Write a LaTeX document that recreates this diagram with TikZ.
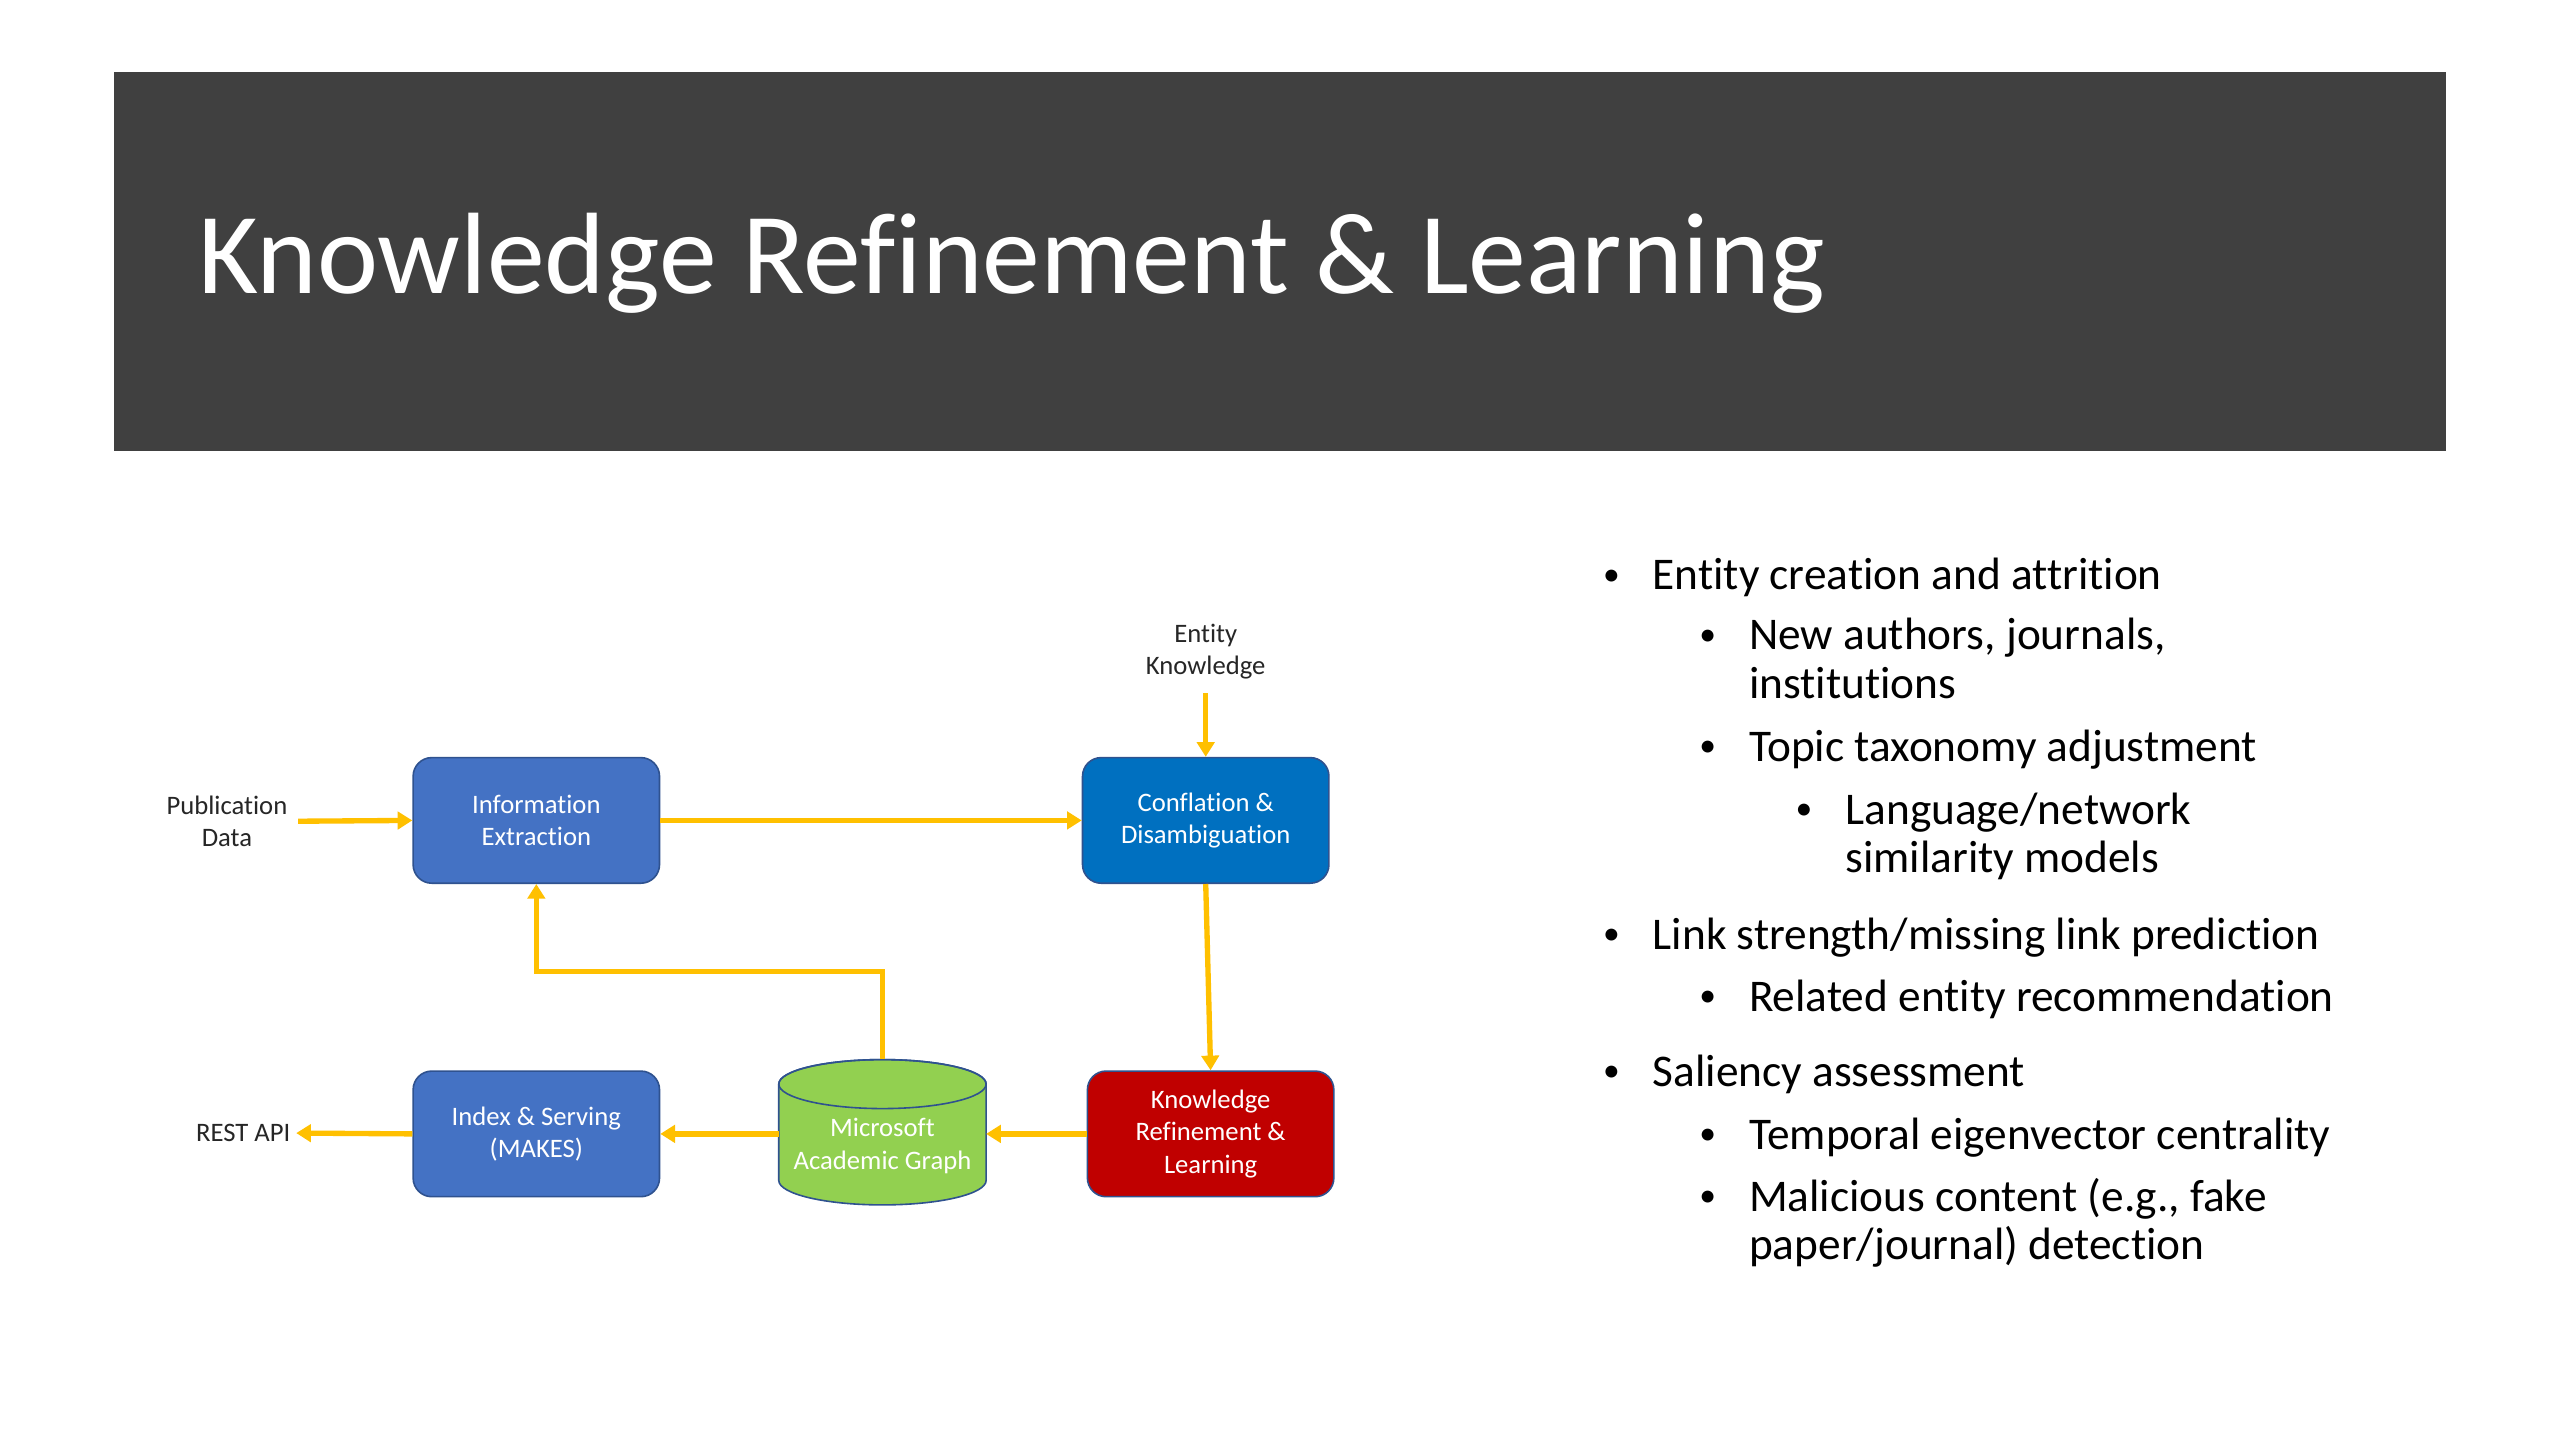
\documentclass[tikz,border=0pt]{standalone}
\usepackage{fontspec}
\setmainfont[Ligatures={NoCommon}]{Carlito}
\usetikzlibrary{arrows.meta}
\definecolor{banner}{HTML}{404040}
\definecolor{boxblue}{HTML}{4472C4}
\definecolor{boxblueb}{HTML}{0070C0}
\definecolor{boxred}{HTML}{C00000}
\definecolor{cylgreen}{HTML}{92D050}
\definecolor{outl}{HTML}{2F528F}
\definecolor{arrowy}{HTML}{FFC000}
\tikzset{
  procbox/.style={draw=outl, line width=0.6pt, rounded corners=7pt, minimum width=92.4pt, minimum height=47.1pt, inner sep=0pt, align=center, text=white, font=\fontsize{10}{12.2}\selectfont},
  sidelabel/.style={align=center, text=black!85, font=\fontsize{10}{12.2}\selectfont, inner sep=2pt},
  arr/.style={draw=arrowy, line width=2pt, -{Triangle[width=6.5pt,length=5.5pt]}},
  bul/.style={anchor=base, font=\fontsize{12.6}{14}\selectfont, text=black, inner sep=0pt, yshift=1.8pt},
  btext/.style={anchor=base west, font=\fontsize{17}{18}\selectfont, text=black, inner sep=0pt},
}
\begin{document}
\begin{tikzpicture}[x=0.61224pt, y=-0.61224pt]
\useasboundingbox[fill=white] (0,0) rectangle (1568,882);
% banner
\fill[banner] (70,44) rectangle (1498,276);
\node[anchor=base west, inner sep=0pt, text=white, font=\fontsize{43.4}{50}\selectfont] (title) at (121,180) {Knowledge Refinement \& Learning};

% process boxes
\node[procbox, fill=boxblue] (ie) at (328.5,502.5) {Information\\Extraction};
\node[procbox, fill=boxblueb] (conf) at (738.5,502.5) {Conflation \&\\Disambiguation};
\node[procbox, fill=boxblue] (idx) at (328.5,694.5) {Index \& Serving\\(MAKES)};
\node[procbox, fill=boxred] (kr) at (741.5,694.5) {Knowledge\\Refinement \&\\Learning};

% cylinder
\node[minimum width=77.8pt, minimum height=54.5pt, inner sep=0pt] (mag) at (540.5,693.5) {};
\path[fill=cylgreen, draw=outl, line width=0.6pt]
  (477,664) -- (477,723) arc[start angle=180, end angle=0, x radius=63.5, y radius=15]
  -- (604,664) arc[start angle=0, end angle=-180, x radius=63.5, y radius=15] -- cycle;
\draw[outl, line width=0.6pt] (540.5,664) ellipse[x radius=63.5, y radius=15];
\node[align=center, text=white, font=\fontsize{10}{12.2}\selectfont, inner sep=0pt] (magt) at (540.5,702) {Microsoft\\Academic Graph};

% side labels
\node[sidelabel] (pub) at (139,503) {Publication\\Data};
\node[sidelabel] (ek) at (738.5,399) {Entity\\Knowledge};
\node[sidelabel] (rest) at (149,694) {REST API};

% connectors
\coordinate (bend) at (540.5,595);
\draw[arr] (pub.east) ++(3,0) -- (ie.west);
\draw[arr] (ie.east) -- (conf.west);
\draw[arr, shorten <=3pt] (ek.south) -- (conf.north);
\draw[arr] (conf.south) -- (kr.north);
\draw[arr] (kr.west) -- (604,694.5);
\draw[arr] (477,694.5) -- (idx.east);
\draw[arr] (idx.west) -- (rest.east);
\draw[arr] (mag.north) -- (bend) -| (ie.south);

% bullets
\node[bul] (b1) at (987,361.3) {•};
\node[btext] (t1) at (1012,361.3) {Entity creation and attrition};
\node[bul] (b2) at (1046,398) {•};
\node[btext] (t2) at (1071,398) {New authors, journals,};
\node[btext] (t2b) at (1071,427.6) {institutions};
\node[bul] (b3) at (1046,466.4) {•};
\node[btext] (t3) at (1071,466.4) {Topic taxonomy adjustment};
\node[bul] (b4) at (1105,505) {•};
\node[btext] (t4) at (1130,505) {Language/network};
\node[btext] (t4b) at (1130,534.7) {similarity models};
\node[bul] (b5) at (987,581.7) {•};
\node[btext] (t5) at (1012,581.7) {Link strength/missing link prediction};
\node[bul] (b6) at (1046,619.4) {•};
\node[btext] (t6) at (1071,619.4) {Related entity recommendation};
\node[bul] (b7) at (987,665.4) {•};
\node[btext] (t7) at (1012,665.4) {Saliency assessment};
\node[bul] (b8) at (1046,704.2) {•};
\node[btext] (t8) at (1071,704.2) {Temporal eigenvector centrality};
\node[bul] (b9) at (1046,742) {•};
\node[btext] (t9) at (1071,742) {Malicious content (e.g., fake};
\node[btext] (t9b) at (1071,771.5) {paper/journal) detection};
\end{tikzpicture}
\end{document}
